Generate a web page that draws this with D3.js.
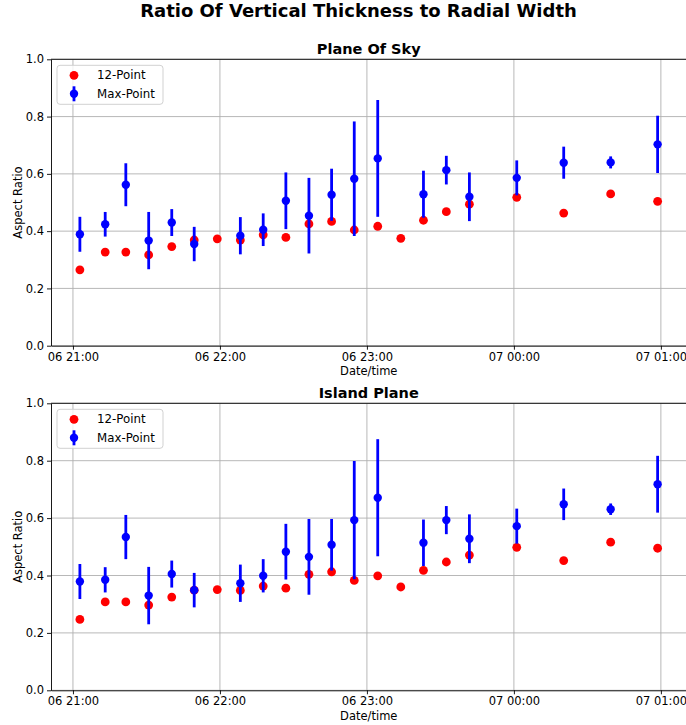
<!DOCTYPE html>
<html>
<head>
<meta charset="utf-8">
<script src="https://cdn.jsdelivr.net/npm/d3@7"></script>
<style>
	html, body { margin: 0; padding: 0; background: #fff; }
	svg { display: block; font-family: "DejaVu Sans", sans-serif; }
</style>
</head>
<body>
<svg id="chart" width="686" height="725"></svg>
<script>
"use strict";

// observation times (day 06 evening to day 07 early morning)
var times = ["06 21:02:50", "06 21:13:10", "06 21:21:35", "06 21:30:55", "06 21:40:20", "06 21:49:30",
	"06 21:58:55", "06 22:08:20", "06 22:17:40", "06 22:26:55", "06 22:36:20", "06 22:45:35",
	"06 22:54:50", "06 23:04:25", "06 23:13:50", "06 23:23:05", "06 23:32:25", "06 23:41:50",
	"07 00:01:10", "07 00:20:20", "07 00:39:30", "07 00:58:40"];

// Plane Of Sky
var skyTwelve = [0.265, 0.327, 0.327, 0.317, 0.346, 0.369, 0.373, 0.369, 0.387, 0.378, 0.425,
	0.434, 0.404, 0.417, 0.375, 0.438, 0.468, 0.494, 0.518, 0.463, 0.530, 0.504];
var skyMax = [0.389, 0.424, 0.562, 0.367, 0.430, 0.355, null, 0.384, 0.405, 0.506, 0.454,
	0.527, 0.583, 0.654, null, 0.529, 0.613, 0.520, 0.586, 0.639, 0.640, 0.703];
var skyErr = [0.061, 0.043, 0.075, 0.100, 0.047, 0.060, null, 0.065, 0.057, 0.099, 0.132,
	0.091, 0.200, 0.204, null, 0.082, 0.050, 0.085, 0.061, 0.056, 0.021, 0.100];

// Island Plane
var islandTwelve = [0.247, 0.308, 0.308, 0.297, 0.325, 0.349, 0.351, 0.348, 0.363, 0.356, 0.404,
	0.413, 0.383, 0.399, 0.360, 0.418, 0.447, 0.471, 0.498, 0.452, 0.516, 0.495];
var islandMax = [0.379, 0.385, 0.534, 0.330, 0.405, 0.349, null, 0.373, 0.399, 0.483, 0.465,
	0.507, 0.593, 0.671, null, 0.514, 0.593, 0.528, 0.572, 0.648, 0.631, 0.718];
var islandErr = [0.061, 0.044, 0.077, 0.100, 0.047, 0.060, null, 0.065, 0.058, 0.097, 0.132,
	0.090, 0.206, 0.204, null, 0.081, 0.049, 0.085, 0.061, 0.055, 0.020, 0.099];

var yTicks = [0, 0.2, 0.4, 0.6, 0.8, 1.0];
var seriesNames = ["12-Point", "Max-Point"];

var parseTime = d3.timeParse("%Y-%m-%d %H:%M:%S"),
	dates = times.map(function (t) {
		return parseTime("2020-01-" + t.slice(0, 2) + " " + t.slice(3));
	}),
	svg = d3.select("#chart"),
	plotLeft = 51,
	plotRight = 686.5,
	fontSize = "11.5px";

/**
 * Matplotlib style x domain: data extent plus a 5% margin each side
 */
var extent = d3.extent(dates),
	pad = (extent[1] - extent[0]) * 0.05,
	x = d3.scaleTime()
		.domain([new Date(+extent[0] - pad), new Date(+extent[1] + pad)])
		.range([plotLeft, plotRight]);

svg.append("text")
	.attr("x", 358.5)
	.attr("y", 17)
	.attr("text-anchor", "middle")
	.attr("font-size", "18px")
	.attr("font-weight", "bold")
	.text("Ratio Of Vertical Thickness to Radial Width");

/**
 * Draw one panel
 * @param  {Number} top     top of plot area
 * @param  {Number} bottom  bottom of plot area
 * @param  {String} title   panel title
 * @param  {Array}  twelve  12-point values
 * @param  {Array}  maxVals max-point values
 * @param  {Array}  errs    error half widths
 * @return {Void}
 */
var drawPanel = function (top, bottom, title, twelve, maxVals, errs) {
	var y = d3.scaleLinear().domain([0, 1]).range([bottom, top]),
		g = svg.append("g"),
		hourTicks = x.ticks(d3.timeHour.every(1));

	// grid
	g.append("g").selectAll("line.vg")
		.data(hourTicks)
		.join("line")
		.attr("x1", function (d) { return x(d); })
		.attr("x2", function (d) { return x(d); })
		.attr("y1", top)
		.attr("y2", bottom)
		.attr("stroke", "#b0b0b0")
		.attr("stroke-width", 0.9);

	g.append("g").selectAll("line.hg")
		.data(yTicks)
		.join("line")
		.attr("x1", plotLeft)
		.attr("x2", plotRight)
		.attr("y1", function (d) { return y(d); })
		.attr("y2", function (d) { return y(d); })
		.attr("stroke", "#b0b0b0")
		.attr("stroke-width", 0.9);

	// axes
	var xAxis = g.append("g")
		.attr("transform", "translate(0," + bottom + ")")
		.call(d3.axisBottom(x).tickValues(hourTicks).tickFormat(d3.timeFormat("%d %H:%M"))
			.tickSize(4).tickPadding(3).tickSizeOuter(0));
	var yAxis = g.append("g")
		.attr("transform", "translate(" + plotLeft + ",0)")
		.call(d3.axisLeft(y).tickValues(yTicks).tickFormat(d3.format(".1f"))
			.tickSize(4).tickPadding(3).tickSizeOuter(0));

	[xAxis, yAxis].forEach(function (a) {
		a.selectAll("text")
			.attr("font-family", "DejaVu Sans")
			.attr("font-size", fontSize)
			.attr("fill", "#000");
		a.selectAll("line").attr("stroke", "#000").attr("stroke-width", 0.9);
		a.select(".domain").attr("stroke", "#000").attr("stroke-width", 0.9);
	});

	g.append("line")
		.attr("x1", plotLeft).attr("x2", plotRight)
		.attr("y1", top).attr("y2", top)
		.attr("stroke", "#000").attr("stroke-width", 0.9);

	// titles
	g.append("text")
		.attr("x", (plotLeft + plotRight) / 2)
		.attr("y", top - 5)
		.attr("text-anchor", "middle")
		.attr("font-size", "14.5px")
		.attr("font-weight", "bold")
		.text(title);

	g.append("text")
		.attr("x", (plotLeft + plotRight) / 2)
		.attr("y", bottom + 29.5)
		.attr("text-anchor", "middle")
		.attr("font-size", fontSize)
		.text("Date/time");

	g.append("text")
		.attr("transform", "translate(21.5," + (top + bottom) / 2 + ") rotate(-90)")
		.attr("text-anchor", "middle")
		.attr("font-size", fontSize)
		.text("Aspect Ratio");

	// 12-point scatter
	g.append("g").selectAll("circle")
		.data(twelve)
		.join("circle")
		.attr("cx", function (d, i) { return x(dates[i]); })
		.attr("cy", function (d) { return y(d); })
		.attr("r", 4.4)
		.attr("fill", "#ff0000");

	// max-point with error bars
	var maxData = maxVals.map(function (v, i) {
		return { date: dates[i], v: v, e: errs[i] };
	}).filter(function (d) { return d.v !== null; });

	var eb = g.append("g");
	eb.selectAll("line")
		.data(maxData)
		.join("line")
		.attr("x1", function (d) { return x(d.date); })
		.attr("x2", function (d) { return x(d.date); })
		.attr("y1", function (d) { return y(d.v - d.e); })
		.attr("y2", function (d) { return y(d.v + d.e); })
		.attr("stroke", "#0000ff")
		.attr("stroke-width", 2.8);
	eb.selectAll("circle")
		.data(maxData)
		.join("circle")
		.attr("cx", function (d) { return x(d.date); })
		.attr("cy", function (d) { return y(d.v); })
		.attr("r", 4.2)
		.attr("fill", "#0000ff");

	// legend
	var lg = g.append("g").attr("transform", "translate(" + (plotLeft + 6) + "," + (top + 6) + ")");
	lg.append("rect")
		.attr("width", 106).attr("height", 39).attr("rx", 3)
		.attr("fill", "#fff").attr("fill-opacity", 0.8)
		.attr("stroke", "#cccccc").attr("stroke-width", 0.9);
	lg.append("circle").attr("cx", 17).attr("cy", 10).attr("r", 4.4).attr("fill", "#ff0000");
	lg.append("line").attr("x1", 17).attr("x2", 17).attr("y1", 21).attr("y2", 36)
		.attr("stroke", "#0000ff").attr("stroke-width", 2.8);
	lg.append("circle").attr("cx", 17).attr("cy", 28.5).attr("r", 4.2).attr("fill", "#0000ff");
	lg.selectAll("text")
		.data(seriesNames)
		.join("text")
		.attr("x", 40)
		.attr("y", function (d, i) { return 14 + i * 18.5; })
		.attr("font-size", "11.8px")
		.text(function (d) { return d; });
};

drawPanel(59.3, 345.7, "Plane Of Sky", skyTwelve, skyMax, skyErr);
drawPanel(403.3, 690.3, "Island Plane", islandTwelve, islandMax, islandErr);
</script>
</body>
</html>
